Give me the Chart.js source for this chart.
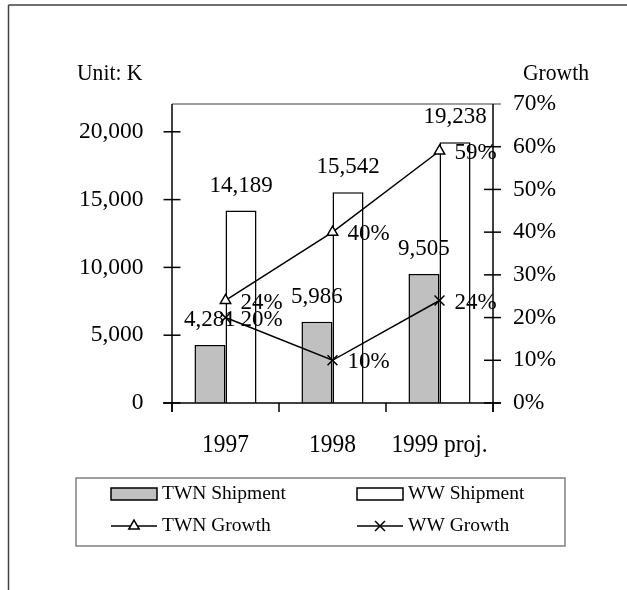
<!DOCTYPE html>
<html><head><meta charset="utf-8">
<script src="https://cdn.jsdelivr.net/npm/chart.js@4"></script>
<style>html,body{margin:0;padding:0;background:#fff;}canvas{display:block;}</style>
</head><body>
<canvas id="c" width="627" height="590"></canvas>
<script>
const categories = ['1997', '1998', '1999 proj.'];
const twnShipment = [4281, 5986, 9505];
const wwShipment = [14189, 15542, 19238];
const twnGrowth = [24, 40, 59];
const wwGrowth = [20, 10, 24];
const leftTicks = [0, 5000, 10000, 15000, 20000];
const rightTicks = [0, 10, 20, 30, 40, 50, 60, 70];
const leftAxisTitle = 'Unit: K';
const rightAxisTitle = 'Growth';

const FONT = "'Liberation Serif', 'Times New Roman', serif";
const fmt = v => v.toLocaleString('en-US');

function seg(ctx, x1, y1, x2, y2) { ctx.beginPath(); ctx.moveTo(x1, y1); ctx.lineTo(x2, y2); ctx.stroke(); }
function condensedText(ctx, text, x, y, align, sx) {
  ctx.save();
  ctx.translate(x, y);
  ctx.scale(sx, 1);
  ctx.textAlign = align;
  ctx.fillText(text, 0, 0);
  ctx.restore();
}

const decoPlugin = {
  id: 'deco',
  afterDatasetsDraw(chart) {
    const { ctx, chartArea: a, scales } = chart;
    const x = scales.x, y = scales.y, y1 = scales.y1;
    ctx.save();
    ctx.lineCap = 'butt';
    ctx.strokeStyle = '#808080'; ctx.lineWidth = 1.5;
    seg(ctx, a.left, a.top, a.right + 8, a.top);
    ctx.strokeStyle = '#000'; ctx.lineWidth = 1.5;
    seg(ctx, a.left, a.top, a.left, a.bottom + 9);
    seg(ctx, a.right, a.top, a.right, a.bottom + 9);
    seg(ctx, a.left - 9, a.bottom, a.right + 8, a.bottom);
    y.ticks.forEach(t => { const p = y.getPixelForValue(t.value); seg(ctx, a.left - 8.5, p, a.left + 8.5, p); });
    y1.ticks.forEach(t => { const p = y1.getPixelForValue(t.value); if (t.value === 70) return; seg(ctx, a.right - 9, p, a.right + 8, p); });
    const w = x.getPixelForValue(1) - x.getPixelForValue(0);
    for (let i = 0; i <= categories.length; i++) {
      const p = x.getPixelForValue(0) - w / 2 + i * w;
      seg(ctx, p, a.bottom, p, a.bottom + 9);
    }
    // category labels
    ctx.fillStyle = '#000';
    ctx.font = '26px ' + FONT;
    ctx.textBaseline = 'middle';
    x.ticks.forEach(t => {
      condensedText(ctx, x.getLabelForValue(t.value), x.getPixelForValue(t.value), a.bottom + 42, 'center', 0.9);
    });
    // data labels
    ctx.font = '23px ' + FONT;
    chart.data.datasets.forEach((ds, di) => {
      const meta = chart.getDatasetMeta(di);
      meta.data.forEach((el, i) => {
        if (ds.type === 'bar') {
          ctx.textAlign = 'center'; ctx.textBaseline = 'middle';
          ctx.fillText(fmt(ds.data[i]), el.x, el.y - 25);
        } else {
          ctx.textAlign = 'left'; ctx.textBaseline = 'middle';
          ctx.fillText(ds.data[i] + '%', el.x + 15, el.y + 2);
        }
      });
    });
    ctx.restore();
  },
  afterDraw(chart) {
    const { ctx } = chart;
    ctx.save();
    ctx.strokeStyle = '#404040'; ctx.lineWidth = 1.5;
    seg(ctx, 8.5, 5, 627, 5);
    seg(ctx, 8.5, 5, 8.5, 590);
    ctx.fillStyle = '#000';
    ctx.font = '24px ' + FONT;
    ctx.textBaseline = 'middle';
    condensedText(ctx, leftAxisTitle, 77, 74, 'left', 0.9);
    condensedText(ctx, rightAxisTitle, 523, 74, 'left', 0.9);
    // legend
    ctx.strokeStyle = '#808080'; ctx.lineWidth = 1.5;
    ctx.strokeRect(76, 478, 489, 68);
    const cols = [111, 357], rows = [494, 526];
    ctx.font = '19.5px ' + FONT;
    chart.data.datasets.forEach((ds, di) => {
      const cx = cols[di % 2], cy = rows[Math.floor(di / 2)];
      if (ds.type === 'bar') {
        ctx.fillStyle = ds.backgroundColor;
        ctx.fillRect(cx, cy - 6, 46, 12);
        ctx.strokeStyle = '#000'; ctx.lineWidth = 1.5;
        ctx.strokeRect(cx, cy - 6, 46, 12);
      } else {
        ctx.strokeStyle = '#000'; ctx.lineWidth = 1.5;
        seg(ctx, cx, cy, cx + 46, cy);
        ctx.fillStyle = '#fff';
        Chart.helpers.drawPoint(ctx, { pointStyle: ds.pointStyle, radius: ds.pointRadius, borderWidth: 1.5, rotation: 0 }, cx + 23, cy);
      }
      ctx.fillStyle = '#000';
      ctx.textAlign = 'left'; ctx.textBaseline = 'middle';
      ctx.fillText(ds.label, cx + 51, cy);
    });
    ctx.restore();
  }
};

new Chart(document.getElementById('c'), {
  data: {
    labels: categories,
    datasets: [
      { type: 'bar', label: 'TWN Shipment', data: twnShipment, yAxisID: 'y', backgroundColor: '#c0c0c0', borderColor: '#000', borderWidth: 1.5, order: 2, categoryPercentage: 0.58, barPercentage: 1 },
      { type: 'bar', label: 'WW Shipment', data: wwShipment, yAxisID: 'y', backgroundColor: '#ffffff', borderColor: '#000', borderWidth: 1.5, order: 2, categoryPercentage: 0.58, barPercentage: 1 },
      { type: 'line', label: 'TWN Growth', data: twnGrowth, yAxisID: 'y1', borderColor: '#000', borderWidth: 1.5, pointStyle: 'triangle', pointRadius: 6, pointBackgroundColor: '#fff', pointBorderColor: '#000', pointBorderWidth: 1.5, order: 1, tension: 0 },
      { type: 'line', label: 'WW Growth', data: wwGrowth, yAxisID: 'y1', borderColor: '#000', borderWidth: 1.5, pointStyle: 'crossRot', pointRadius: 7, pointBackgroundColor: '#fff', pointBorderColor: '#000', pointBorderWidth: 1.5, order: 1, tension: 0 }
    ]
  },
  options: {
    responsive: false,
    devicePixelRatio: 1,
    animation: false,
    layout: { padding: { top: 104, left: 0, right: 0, bottom: 0 } },
    plugins: { legend: { display: false }, tooltip: { enabled: false }, title: { display: false } },
    scales: {
      x: {
        type: 'category', offset: true,
        grid: { display: false, drawTicks: false }, border: { display: false },
        ticks: { display: false, autoSkip: false },
        afterFit: s => { s.height = 187; }
      },
      y: {
        type: 'linear', position: 'left', min: 0, max: 22050,
        grid: { display: false, drawTicks: false }, border: { display: false },
        afterBuildTicks: s => { s.ticks = leftTicks.map(v => ({ value: v })); },
        ticks: { color: '#000', font: { family: FONT, size: 23.5 }, padding: 28.5, callback: v => fmt(v) },
        afterFit: s => { s.width = 172; }
      },
      y1: {
        type: 'linear', position: 'right', min: 0, max: 70,
        grid: { display: false, drawTicks: false }, border: { display: false },
        afterBuildTicks: s => { s.ticks = rightTicks.map(v => ({ value: v })); },
        ticks: { color: '#000', font: { family: FONT, size: 23.5 }, padding: 20, callback: v => v + '%' },
        afterFit: s => { s.width = 134; }
      }
    }
  },
  plugins: [decoPlugin]
});
</script>
</body></html>
